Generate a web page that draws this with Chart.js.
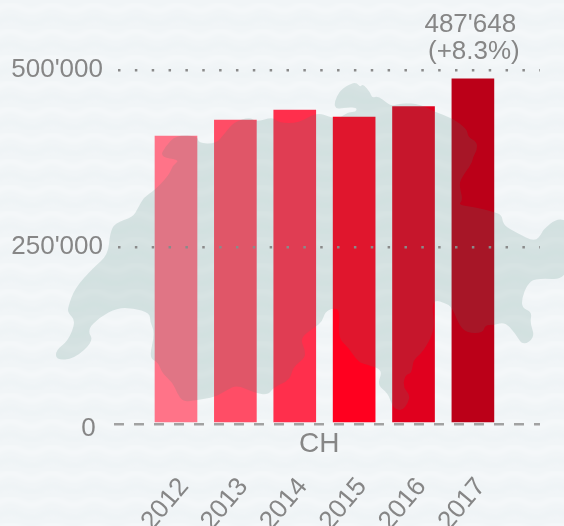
<!DOCTYPE html>
<html>
<head>
<meta charset="utf-8">
<script src="https://cdn.jsdelivr.net/npm/chart.js@4"></script>
<style>
html,body{margin:0;padding:0;width:564px;height:526px;overflow:hidden;background-color:#f1f5f7}
#paper{position:absolute;left:0;top:0;width:564px;height:526px}
canvas{position:absolute;left:0;top:0}
</style>
</head>
<body>
<svg id="paper" xmlns="http://www.w3.org/2000/svg" width="564" height="526">
  <defs>
    <filter id="soft"><feGaussianBlur stdDeviation="2.2"/></filter>
    <pattern id="weave" width="42" height="26" patternUnits="userSpaceOnUse">
      <rect width="42" height="26" fill="#f1f5f7"/>
      <g filter="url(#soft)" fill="none">
        <path d="M-42 8 q10 -6 21 0 t21 0 t21 0 t21 0 t21 0" stroke="#ffffff" stroke-opacity=".35" stroke-width="4"/>
        <path d="M-42 21 q10 -6 21 0 t21 0 t21 0 t21 0 t21 0" stroke="#e9eff2" stroke-opacity=".4" stroke-width="4"/>
      </g>
    </pattern>
  </defs>
  <rect width="564" height="526" fill="url(#weave)"/>
</svg>
<canvas id="c" width="564" height="526"></canvas>
<script>
const years = [2012, 2013, 2014, 2015, 2016, 2017];
const visitors = [406800, 429400, 443500, 433600, 448500, 487648];
const barColors = ['#ff7388', '#ff4d66', '#ff2f4c', '#ff001f', '#e0001e', '#bb0018'];
const yTicks = [0, 250000, 500000];
const groupLabels = ['CH  '];
const calloutLines = ["487'648 ", '(+8.3%)'];

// decorative backdrop silhouette, in page pixels
const mapOutline = [[56,350],[68,341],[76,321],[68,313],[68,307],[75,288],[93,268],[108,255],[110,233],[115,223],[133,217],[138,208],[144,197],[155,190],[169,175],[173,165],[180,160],[160,157],[165,147],[176,135],[198,136],[198,143],[216,144],[225,133],[234,122],[250,117],[256,122],[273,117],[279,123],[299,123],[317,112],[332,118],[340,118],[348,112],[356,112],[357,107],[343,108],[336,109],[334,103],[340,90],[352,83],[357,83],[360,87],[363,84],[370,92],[372,98],[378,96],[387,103],[392,106],[402,103],[420,104],[435,112],[452,118],[467,129],[468,137],[477,142],[477,150],[473,157],[472,163],[462,177],[459,185],[463,200],[458,205],[475,207],[494,212],[502,215],[503,225],[517,233],[535,242],[542,233],[543,230],[557,218],[570,222],[570,280],[535,278],[527,285],[522,298],[522,308],[532,312],[530,323],[535,337],[523,346],[515,333],[505,322],[494,325],[485,325],[483,333],[467,333],[459,325],[452,307],[445,303],[435,300],[432,307],[435,330],[423,352],[413,360],[412,373],[405,375],[403,387],[410,395],[408,403],[402,411],[393,408],[388,393],[377,385],[383,370],[368,365],[358,362],[348,347],[338,338],[340,310],[333,308],[325,312],[322,322],[315,327],[300,338],[305,350],[305,358],[293,367],[290,380],[274,387],[268,395],[255,393],[237,385],[227,390],[215,397],[197,400],[183,402],[177,393],[173,383],[162,373],[158,362],[149,358],[155,333],[150,322],[150,313],[133,308],[117,308],[100,317],[87,330],[94,341],[74,359],[56,360]];

const backdropAndCallout = {
  id: 'backdropAndCallout',
  afterDatasetsDraw(chart) {
    const ctx = chart.ctx;
    ctx.save();
    ctx.fillStyle = 'rgba(70,130,120,0.17)';
    ctx.beginPath();
    const n = mapOutline.length;
    const mid = i => {
      const a = mapOutline[i % n], b = mapOutline[(i + 1) % n];
      return [(a[0] + b[0]) / 2, (a[1] + b[1]) / 2];
    };
    const s = mid(n - 1);
    ctx.moveTo(s[0], s[1]);
    for (let i = 0; i < n; i++) {
      const m = mid(i);
      ctx.quadraticCurveTo(mapOutline[i][0], mapOutline[i][1], m[0], m[1]);
    }
    ctx.closePath();
    ctx.fill();
    ctx.restore();
  },
  afterDraw(chart) {
    const ctx = chart.ctx;
    const bar = chart.getDatasetMeta(0).data[years.length - 1];
    ctx.save();
    ctx.fillStyle = '#868686';
    ctx.font = '26px "Liberation Sans"';
    ctx.textAlign = 'center';
    ctx.textBaseline = 'alphabetic';
    ctx.fillText(calloutLines[0], bar.x + 1, bar.y - 47);
    ctx.fillText(calloutLines[1], bar.x + 1, bar.y - 20);
    ctx.restore();
  }
};

const grey = '#868686';
const font = { family: '"Liberation Sans"', size: 26 };
const isZero = c => c.tick && c.tick.value === 0;
const noSidePadding = s => { s.paddingLeft = 0; s.paddingRight = 0; };

new Chart(document.getElementById('c'), {
  type: 'bar',
  data: {
    datasets: [{
      data: years.map((y, i) => ({ x: y, y: visitors[i] })),
      backgroundColor: barColors,
      barThickness: 42,
      base: 3000,
      xAxisID: 'x'
    }]
  },
  options: {
    responsive: false,
    animation: false,
    devicePixelRatio: 1,
    layout: { padding: { top: 70, right: 24, left: 0, bottom: 0 } },
    plugins: { legend: { display: false }, tooltip: { enabled: false }, title: { display: false } },
    scales: {
      x2: {
        type: 'category',
        labels: groupLabels,
        position: 'bottom',
        offset: true,
        weight: 0,
        grid: { display: false, drawTicks: false, tickLength: 0 },
        border: { display: false },
        ticks: { color: grey, font: { family: '"Liberation Sans"', size: 28 }, padding: 3, maxRotation: 0, minRotation: 0 },
        afterFit(s) { s.height = 32; noSidePadding(s); }
      },
      x: {
        type: 'linear',
        position: 'bottom',
        weight: 1,
        offset: false,
        min: 2010.956,
        max: 2018.13,
        grid: { display: false, drawTicks: false, tickLength: 0, offset: false },
        border: { display: false },
        ticks: {
          stepSize: 1,
          includeBounds: false,
          autoSkip: false,
          color: grey,
          font: { family: '"Liberation Sans"', size: 26 },
          padding: 16,
          labelOffset: 8,
          minRotation: 50,
          maxRotation: 50,
          callback: v => years.includes(v) ? String(v) : ''
        },
        afterFit(s) { s.height = 70; noSidePadding(s); }
      },
      y: {
        type: 'linear',
        position: 'left',
        min: 0,
        max: 500000,
        afterBuildTicks(s) { s.ticks = yTicks.map(value => ({ value })); },
        grid: {
          z: 1,
          drawTicks: false,
          color: c => isZero(c) ? '#a2a2a2' : '#8a8a8a',
          lineWidth: 2.5
        },
        border: {
          display: false,
          dash: c => isZero(c) ? [10, 10] : [2.5, 14.35],
          dashOffset: c => isZero(c) ? 0 : -4
        },
        ticks: {
          color: grey,
          font: c => isZero(c)
            ? { family: '"Liberation Sans"', size: 26, lineHeight: 10 / 26 }
            : font,
          padding: 11,
          callback: v => v === 0 ? ['', '0 '] : String(v).replace(/\B(?=(\d{3})+$)/g, "'")
        },
        afterFit(s) { s.width = 114; }
      }
    }
  },
  plugins: [backdropAndCallout]
});
</script>
</body>
</html>
